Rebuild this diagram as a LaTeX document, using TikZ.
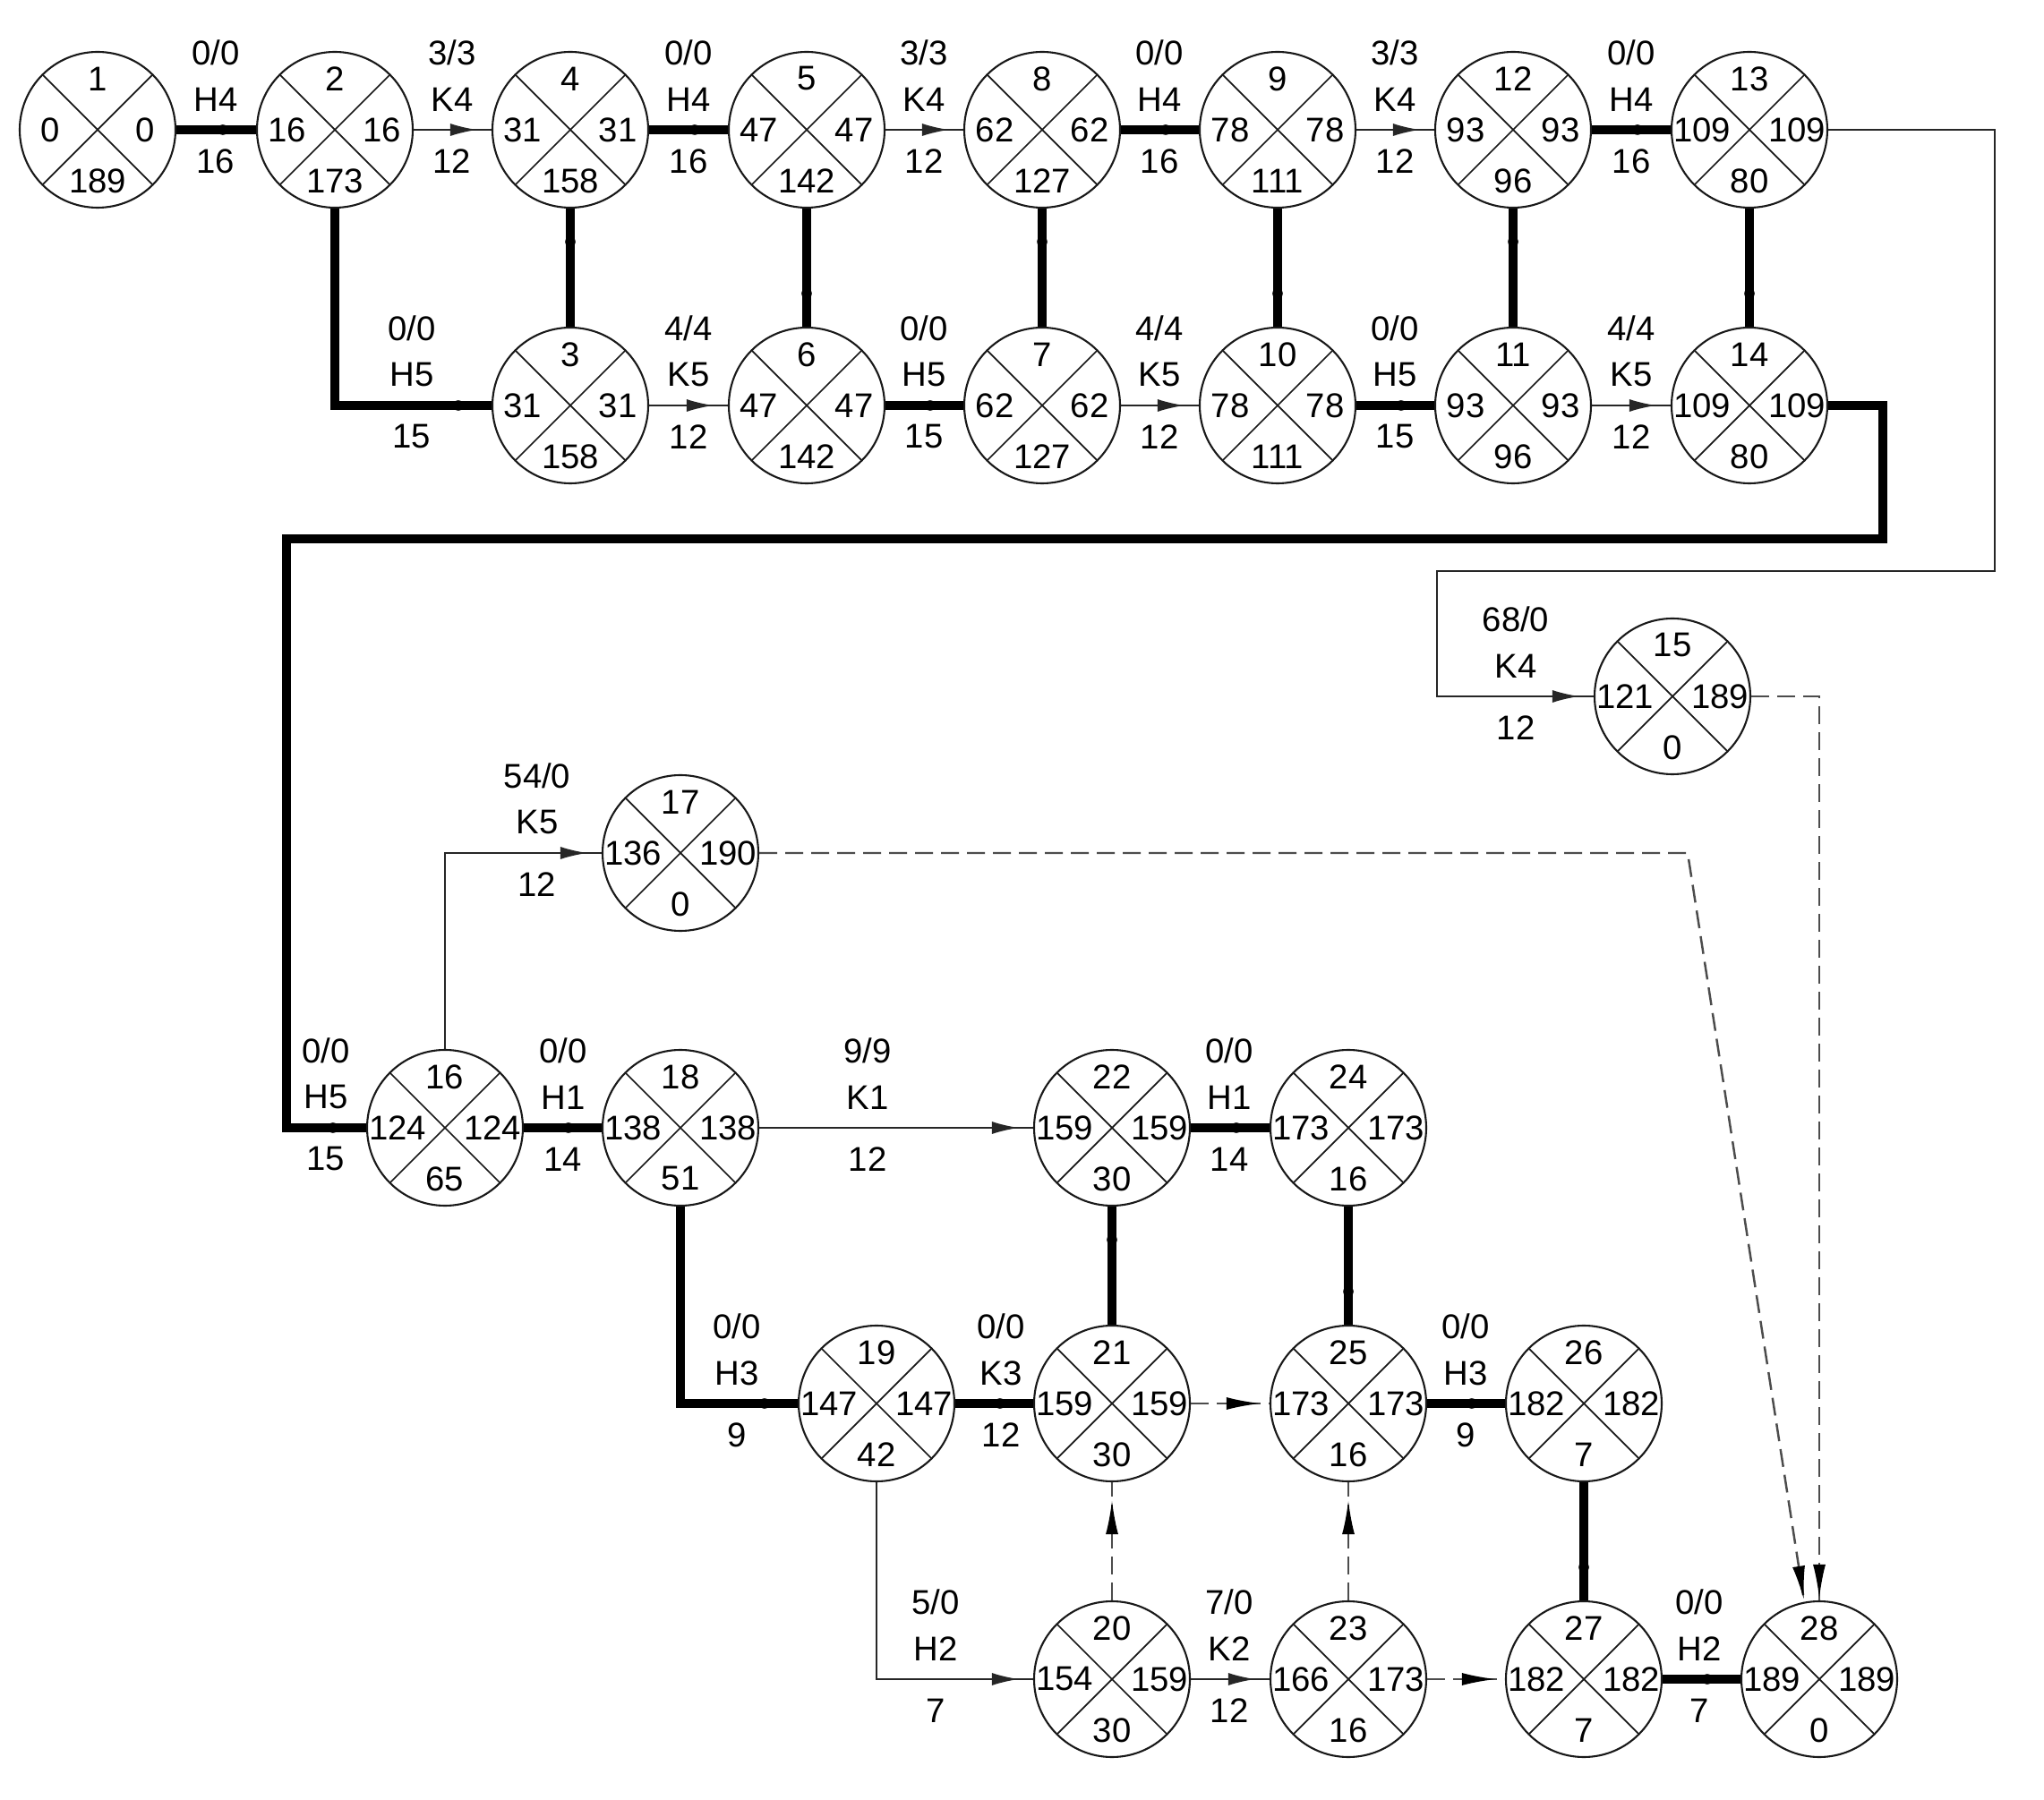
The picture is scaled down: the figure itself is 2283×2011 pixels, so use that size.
\documentclass[tikz,border=0pt]{standalone}
\usepackage{fontspec}
\setmainfont{Liberation Sans}
\usetikzlibrary{calc,arrows.meta,decorations.markings}
\tikzset{
  evt/.style={circle, draw=black!90, line width=0.6pt, minimum size=17.4mm, inner sep=0pt,
    path picture={\draw[line width=0.5pt]
      (path picture bounding box.north west) -- (path picture bounding box.south east)
      (path picture bounding box.north east) -- (path picture bounding box.south west);}},
  num/.style={inner sep=0pt, font=\fontsize{10.9pt}{12pt}\selectfont},
  crit/.style={line width=1mm, draw=black, postaction={decorate},
    decoration={markings, mark=at position -3.7mm with {\fill[black] (0,0) circle (0.58mm);}}},
  act/.style={line width=0.6pt, draw=black!85, postaction={decorate},
    decoration={markings, mark=at position -1.6mm with {\arrow{Latex[length=3mm,width=1.4mm]}}}},
  dum/.style={line width=0.7pt, draw=black!70, dash pattern=on 2mm off 0.9mm, postaction={decorate},
    decoration={markings, mark=at position -#1 with {\pgfsetdash{}{0pt}\arrow[black]{Latex[length=3.8mm,width=1.4mm]}}}},
  dum/.default=1mm
}
\newcommand\evt[7]{%
  \node[evt] (#1) at (#2,#3) {};
  \node[num] (#1-t) at ($(#1)+(0,-57)$) {#4};
  \node[num] (#1-l) at ($(#1)+(-53,0)$) {#5};
  \node[num] (#1-r) at ($(#1)+(53,0)$) {#6};
  \node[num] (#1-b) at ($(#1)+(0,57)$) {#7};
}
\newcommand\elab[6]{%
  \node[num] (#1a) at (#2,#3-86) {#4};
  \node[num] (#1b) at (#2,#3-34) {#5};
  \node[num] (#1c) at (#2,#3+35) {#6};
}
\begin{document}
\begin{tikzpicture}[x=0.1mm,y=-0.1mm]
\useasboundingbox (0,0) rectangle (2283,2011);
% events
\evt{n1}{109}{145}{1}{0}{0}{189}
\evt{n2}{374}{145}{2}{16}{16}{173}
\evt{n4}{637}{145}{4}{31}{31}{158}
\evt{n5}{901}{145}{5}{47}{47}{142}
\evt{n8}{1164}{145}{8}{62}{62}{127}
\evt{n9}{1427}{145}{9}{78}{78}{111}
\evt{n12}{1690}{145}{12}{93}{93}{96}
\evt{n13}{1954}{145}{13}{109}{109}{80}
\evt{n3}{637}{453}{3}{31}{31}{158}
\evt{n6}{901}{453}{6}{47}{47}{142}
\evt{n7}{1164}{453}{7}{62}{62}{127}
\evt{n10}{1427}{453}{10}{78}{78}{111}
\evt{n11}{1690}{453}{11}{93}{93}{96}
\evt{n14}{1954}{453}{14}{109}{109}{80}
\evt{n15}{1868}{778}{15}{121}{189}{0}
\evt{n17}{760}{953}{17}{136}{190}{0}
\evt{n16}{497}{1260}{16}{124}{124}{65}
\evt{n18}{760}{1260}{18}{138}{138}{51}
\evt{n22}{1242}{1260}{22}{159}{159}{30}
\evt{n24}{1506}{1260}{24}{173}{173}{16}
\evt{n19}{979}{1568}{19}{147}{147}{42}
\evt{n21}{1242}{1568}{21}{159}{159}{30}
\evt{n25}{1506}{1568}{25}{173}{173}{16}
\evt{n26}{1769}{1568}{26}{182}{182}{7}
\evt{n20}{1242}{1876}{20}{154}{159}{30}
\evt{n23}{1506}{1876}{23}{166}{173}{16}
\evt{n27}{1769}{1876}{27}{182}{182}{7}
\evt{n28}{2032}{1876}{28}{189}{189}{0}
% route points
\coordinate (c14a) at (2103,602);
\coordinate (c14b) at (320,602);
\coordinate (c13a) at (2228,638);
\coordinate (c13b) at (1605,638);
\coordinate (c17a) at (1885,953);
% critical (thick) connectors
\draw[crit] (n1.east) -- (n2.west);
\draw[crit] (n4.east) -- (n5.west);
\draw[crit] (n8.east) -- (n9.west);
\draw[crit] (n12.east) -- (n13.west);
\draw[crit] (n2.south) |- (n3.west);
\draw[crit] (n6.east) -- (n7.west);
\draw[crit] (n10.east) -- (n11.west);
\draw[crit] (n3.north) -- (n4.south);
\draw[crit] (n5.south) -- (n6.north);
\draw[crit] (n7.north) -- (n8.south);
\draw[crit] (n9.south) -- (n10.north);
\draw[crit] (n11.north) -- (n12.south);
\draw[crit] (n13.south) -- (n14.north);
\draw[crit] (n14.east) -| (c14a) -- (c14b) |- (n16.west);
\draw[crit] (n16.east) -- (n18.west);
\draw[crit] (n22.east) -- (n24.west);
\draw[crit] (n18.south) |- (n19.west);
\draw[crit] (n19.east) -- (n21.west);
\draw[crit] (n21.north) -- (n22.south);
\draw[crit] (n24.south) -- (n25.north);
\draw[crit] (n25.east) -- (n26.west);
\draw[crit] (n26.south) -- (n27.north);
\draw[crit] (n27.east) -- (n28.west);
% ordinary connectors
\draw[act] (n2.east) -- (n4.west);
\draw[act] (n5.east) -- (n8.west);
\draw[act] (n9.east) -- (n12.west);
\draw[act] (n3.east) -- (n6.west);
\draw[act] (n7.east) -- (n10.west);
\draw[act] (n11.east) -- (n14.west);
\draw[act] (n13.east) -| (c13a) -- (c13b) |- (n15.west);
\draw[act] (n16.north) |- (n17.west);
\draw[act] (n18.east) -- (n22.west);
\draw[act] (n19.south) |- (n20.west);
\draw[act] (n20.east) -- (n23.west);
% dummy connectors
\draw[dum] (n21.east) -- (n25.west);
\draw[dum=2mm] (n20.north) -- (n21.south);
\draw[dum=2mm] (n23.north) -- (n25.south);
\draw[dum] (n23.east) -- (n27.west);
\draw[dum=0.2mm] (n15.east) -| (n28.north);
\draw[dum=0.2mm] (n17.east) -- (c17a) -- (n28.101);
% connector labels
\elab{e1}{241}{145}{0/0}{H4}{16}
\elab{e2}{505}{145}{3/3}{K4}{12}
\elab{e3}{769}{145}{0/0}{H4}{16}
\elab{e4}{1032}{145}{3/3}{K4}{12}
\elab{e5}{1295}{145}{0/0}{H4}{16}
\elab{e6}{1558}{145}{3/3}{K4}{12}
\elab{e7}{1822}{145}{0/0}{H4}{16}
\elab{e8}{460}{453}{0/0}{H5}{15}
\elab{e9}{769}{453}{4/4}{K5}{12}
\elab{e10}{1032}{453}{0/0}{H5}{15}
\elab{e11}{1295}{453}{4/4}{K5}{12}
\elab{e12}{1558}{453}{0/0}{H5}{15}
\elab{e13}{1822}{453}{4/4}{K5}{12}
\elab{e14}{1693}{778}{68/0}{K4}{12}
\elab{e15}{600}{953}{54/0}{K5}{12}
\elab{e16}{364}{1260}{0/0}{H5}{15}
\elab{e17}{629}{1260}{0/0}{H1}{14}
\elab{e18}{969}{1260}{9/9}{K1}{12}
\elab{e19}{1373}{1260}{0/0}{H1}{14}
\elab{e20}{823}{1568}{0/0}{H3}{9}
\elab{e21}{1118}{1568}{0/0}{K3}{12}
\elab{e22}{1637}{1568}{0/0}{H3}{9}
\elab{e23}{1045}{1876}{5/0}{H2}{7}
\elab{e24}{1373}{1876}{7/0}{K2}{12}
\elab{e25}{1898}{1876}{0/0}{H2}{7}
\end{tikzpicture}
\end{document}
